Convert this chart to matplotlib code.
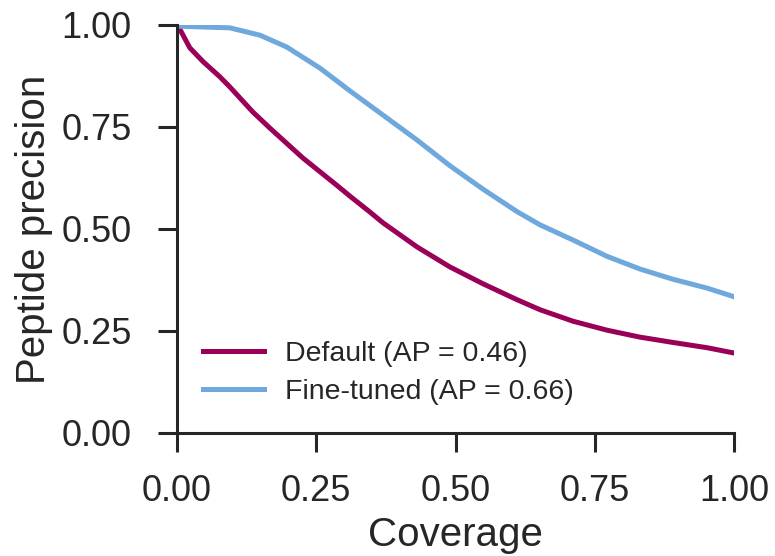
import matplotlib.pyplot as plt
import numpy as np

# coverage / precision points
cov_default = [0.0, 0.005, 0.023, 0.047, 0.077, 0.095, 0.136, 0.167, 0.226, 0.287,
               0.311, 0.346, 0.37, 0.431, 0.49, 0.549, 0.61, 0.652, 0.711, 0.772,
               0.831, 0.89, 0.952, 1.0]
prec_default = [1.0, 0.99, 0.944, 0.91, 0.873, 0.848, 0.787, 0.747, 0.674, 0.607,
                0.58, 0.542, 0.515, 0.456, 0.407, 0.366, 0.327, 0.302, 0.274, 0.252,
                0.235, 0.222, 0.209, 0.196]

cov_tuned = [0.0, 0.005, 0.095, 0.149, 0.197, 0.257, 0.311, 0.346, 0.37, 0.431,
             0.49, 0.549, 0.61, 0.652, 0.711, 0.772, 0.831, 0.89, 0.952, 1.0]
prec_tuned = [1.0, 0.997, 0.993, 0.975, 0.946, 0.894, 0.838, 0.803, 0.779, 0.718,
              0.655, 0.598, 0.543, 0.51, 0.473, 0.433, 0.402, 0.377, 0.355, 0.334]

labels = ["Default (AP = 0.46)", "Fine-tuned (AP = 0.66)"]
colors = ["#9B0058", "#6FA8DC"]

plt.rcParams['font.family'] = ['Liberation Sans', 'DejaVu Sans']
txt = "#262626"

fig = plt.figure(figsize=(7.75, 5.56), dpi=100)
ax = fig.add_axes([177 / 775, 1 - 433 / 556, 557 / 775, 408 / 556])

ax.plot(cov_default, prec_default, color=colors[0], lw=3.6, label=labels[0],
        solid_joinstyle="round")
ax.plot(cov_tuned, prec_tuned, color=colors[1], lw=3.6, label=labels[1],
        solid_joinstyle="round")

ax.set_xlim(0, 1)
ax.set_ylim(0, 1)
ticks = [0, 0.25, 0.5, 0.75, 1.0]
tlabels = ["0.00", "0.25", "0.50", "0.75", "1.00"]
ax.set_xticks(ticks)
ax.set_yticks(ticks)
ax.set_xticklabels(tlabels)
ax.set_yticklabels(tlabels)
ax.tick_params(labelsize=26, length=13.5, width=2.2, colors=txt)
ax.tick_params(axis="x", pad=16)
ax.tick_params(axis="y", pad=19)
for s in ["top", "right"]:
    ax.spines[s].set_visible(False)
for s in ["left", "bottom"]:
    ax.spines[s].set_linewidth(2.2)
    ax.spines[s].set_color(txt)

ax.set_xlabel("Coverage", fontsize=29, color=txt, labelpad=5)
ax.set_ylabel("Peptide precision", fontsize=29, color=txt, labelpad=6)

leg = ax.legend(loc="lower left", bbox_to_anchor=(0.0, 0.005), frameon=False,
                fontsize=20.5, handlelength=2.15, handletextpad=0.75, labelspacing=0.45)
for t in leg.get_texts():
    t.set_color(txt)

fig.savefig("out.png", dpi=100)
